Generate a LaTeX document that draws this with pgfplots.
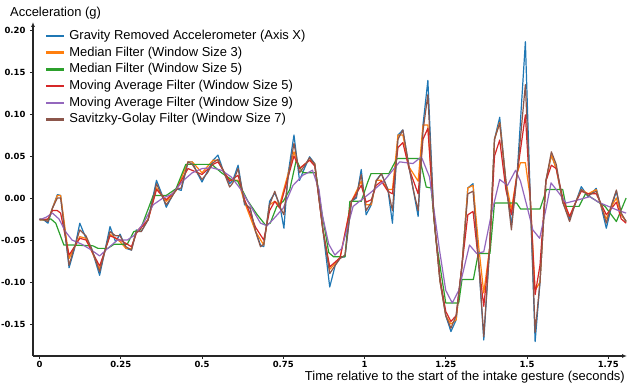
\documentclass[border=0pt]{standalone}
\usepackage{pgfplots}
\pgfplotsset{compat=1.18}
\usepackage{fontspec}
\setmainfont{Liberation Sans}
\newfontfamily\tickfont{DejaVu Sans}
\usetikzlibrary{arrows.meta}
\definecolor{cblue}{HTML}{1F77B4}
\definecolor{corange}{HTML}{FF7F0E}
\definecolor{cgreen}{HTML}{2CA02C}
\definecolor{cred}{HTML}{D62728}
\definecolor{cpurple}{HTML}{9467BD}
\definecolor{cbrown}{HTML}{8C564B}
\begin{document}
\begin{tikzpicture}
\path[use as bounding box] (0,0) rectangle (628bp,385bp);
\begin{axis}[
  at={(33bp,29bp)}, anchor=south west,
  scale only axis, width=594bp, height=334bp,
  xmin=-0.02, xmax=1.8077, ymin=-0.1881, ymax=0.2095,
  axis lines=left,
  axis line style={line width=1.3bp, black!85, -{Latex[length=5bp,width=4bp]}},
  tick style={black!85, line width=0.8bp},
  major tick length=3bp, tick align=outside,
  xtick={0,0.25,0.5,0.75,1,1.25,1.5,1.75},
  xticklabels={0,0.25,0.5,0.75,1,1.25,1.5,1.75},
  ytick={-0.15,-0.10,-0.05,0,0.05,0.10,0.15,0.20},
  yticklabels={-0.15,-0.10,-0.05,0.00,0.05,0.10,0.15,0.20},
  tick label style={font=\tickfont\bfseries\fontsize{8.5}{10}\selectfont},
  xticklabel style={yshift=1.5bp},
  yticklabel style={xshift=-1bp},
  xlabel={Time relative to the start of the intake gesture (seconds)},
  xlabel style={at={(axis description cs:1,0)}, anchor=north east, inner sep=0pt, yshift=-14.5bp, xshift=-2bp, font=\fontsize{13}{15}\selectfont},
  ylabel={Acceleration (g)},
  ylabel style={at={(axis description cs:0,1)}, rotate=-90, anchor=south west, inner sep=0pt, xshift=-23bp, yshift=3bp, font=\fontsize{13}{15}\selectfont},
  legend cell align=left,
  legend style={draw=none, fill=none, inner sep=0pt, outer sep=0pt, row sep=4.7bp, column sep=4bp,
    font=\fontsize{13}{15}\selectfont,
    nodes={inner sep=0pt, text height=9.5bp, text depth=2.5bp},
    at={(axis description cs:0,1)}, anchor=north west, xshift=12bp, yshift=-8bp},
  legend image code/.code={\draw[#1, line width=2.4bp] (0bp,0bp) -- (18bp,0bp);},
  every axis plot/.append style={line width=1.2bp, mark=none, line join=round},
]
\addplot[cblue] coordinates {
(0.000,-0.025) (0.013,-0.026) (0.026,-0.030) (0.040,-0.012) (0.055,0.004) (0.065,0.003)
(0.091,-0.083) (0.108,-0.060) (0.124,-0.030) (0.143,-0.048) (0.160,-0.060) (0.185,-0.092)
(0.200,-0.065) (0.217,-0.034) (0.234,-0.052) (0.248,-0.043) (0.266,-0.060) (0.283,-0.062)
(0.298,-0.038) (0.313,-0.040) (0.334,-0.026) (0.360,0.021) (0.376,0.005) (0.390,-0.011)
(0.405,0.000) (0.421,0.011) (0.436,0.009) (0.457,0.043) (0.470,0.043) (0.485,0.030)
(0.500,0.019) (0.517,0.032) (0.534,0.045) (0.549,0.051) (0.565,0.033) (0.585,0.017)
(0.595,0.021) (0.611,0.039) (0.631,-0.008) (0.648,-0.012) (0.665,-0.040) (0.680,-0.056)
(0.690,-0.058) (0.708,-0.004) (0.724,0.006) (0.739,-0.008) (0.752,-0.036) (0.765,0.029)
(0.783,0.075) (0.800,0.021) (0.815,0.035) (0.831,0.049) (0.847,0.041) (0.872,-0.038)
(0.893,-0.106) (0.910,-0.080) (0.925,-0.071) (0.940,-0.070) (0.960,-0.004) (0.975,0.000)
(0.990,0.034) (1.005,-0.020) (1.021,-0.008) (1.036,0.021) (1.052,0.029) (1.072,0.010)
(1.086,-0.030) (1.103,0.075) (1.118,0.081) (1.137,0.037) (1.150,0.010) (1.165,-0.022)
(1.180,0.087) (1.195,0.140) (1.213,-0.020) (1.232,-0.098) (1.250,-0.140) (1.266,-0.159)
(1.282,-0.145) (1.300,-0.080) (1.318,0.012) (1.334,0.017) (1.352,-0.080) (1.367,-0.169)
(1.385,-0.060) (1.400,0.070) (1.416,0.096) (1.435,0.020) (1.452,-0.032) (1.470,0.030)
(1.495,0.186) (1.510,0.000) (1.525,-0.171) (1.540,-0.100) (1.558,0.020) (1.575,0.051)
(1.590,0.035) (1.610,-0.005) (1.631,-0.025) (1.650,-0.005) (1.667,0.0135) (1.688,0.0015)
(1.713,0.0115) (1.728,-0.010) (1.744,-0.036) (1.760,-0.010) (1.775,0.008) (1.790,-0.020)
(1.805,-0.028)
};
\addlegendentry{Gravity Removed Accelerometer (Axis X)}
\addplot[corange] coordinates {
(0.000,-0.026) (0.026,-0.026) (0.040,-0.012) (0.055,0.003) (0.065,0.003) (0.091,-0.072)
(0.124,-0.046) (0.143,-0.048) (0.185,-0.085) (0.217,-0.043) (0.248,-0.052) (0.266,-0.060)
(0.283,-0.060) (0.298,-0.040) (0.334,-0.026) (0.360,0.012) (0.390,-0.004) (0.421,0.009)
(0.457,0.043) (0.470,0.043) (0.500,0.030) (0.534,0.045) (0.549,0.045) (0.565,0.033)
(0.585,0.021) (0.611,0.021) (0.631,-0.005) (0.665,-0.040) (0.690,-0.056) (0.708,-0.008)
(0.724,-0.004) (0.739,-0.008) (0.765,0.029) (0.783,0.055) (0.800,0.035) (0.831,0.045)
(0.847,0.041) (0.872,-0.038) (0.893,-0.085) (0.925,-0.071) (0.960,-0.004) (0.990,0.020)
(1.005,-0.008) (1.021,-0.008) (1.036,0.021) (1.052,0.021) (1.072,0.010) (1.086,0.010)
(1.103,0.075) (1.118,0.075) (1.137,0.037) (1.165,0.020) (1.180,0.087) (1.195,0.087)
(1.213,-0.020) (1.232,-0.098) (1.250,-0.140) (1.266,-0.150) (1.282,-0.145) (1.300,-0.080)
(1.318,0.012) (1.334,0.015) (1.352,-0.060) (1.367,-0.113) (1.385,-0.060) (1.400,0.070)
(1.416,0.090) (1.435,0.020) (1.452,-0.014) (1.470,0.030) (1.480,0.042) (1.495,0.042)
(1.510,0.000) (1.525,-0.110) (1.540,-0.100) (1.558,0.020) (1.575,0.051) (1.590,0.035)
(1.610,-0.005) (1.631,-0.022) (1.650,-0.005) (1.667,0.010) (1.688,0.005) (1.713,0.010)
(1.728,-0.010) (1.744,-0.025) (1.760,-0.010) (1.775,0.000) (1.790,-0.020) (1.805,-0.028)
};
\addlegendentry{Median Filter (Window Size 3)}
\addplot[cgreen] coordinates {
(0.000,-0.026) (0.020,-0.026) (0.035,-0.025) (0.050,-0.030) (0.075,-0.056) (0.100,-0.056)
(0.165,-0.057) (0.180,-0.060) (0.210,-0.060) (0.230,-0.055) (0.270,-0.055) (0.290,-0.040)
(0.310,-0.038) (0.350,0.003) (0.390,0.003) (0.420,0.011) (0.450,0.040) (0.530,0.040)
(0.560,0.030) (0.590,0.022) (0.610,0.020) (0.640,-0.003) (0.670,-0.020) (0.695,-0.032)
(0.710,-0.030) (0.730,-0.010) (0.750,-0.004) (0.770,0.010) (0.790,0.045) (0.810,0.030)
(0.850,0.030) (0.870,-0.020) (0.890,-0.065) (0.905,-0.070) (0.940,-0.070) (0.955,-0.004)
(0.990,-0.004) (1.010,0.019) (1.020,0.029) (1.075,0.029) (1.090,0.040) (1.100,0.047)
(1.170,0.047) (1.190,0.013) (1.205,0.012) (1.220,-0.050) (1.250,-0.125) (1.290,-0.125)
(1.300,-0.097) (1.335,-0.097) (1.350,-0.066) (1.386,-0.066) (1.400,-0.006) (1.468,-0.006)
(1.480,-0.013) (1.540,-0.013) (1.560,0.010) (1.610,0.010) (1.620,-0.010) (1.660,-0.010)
(1.680,0.005) (1.700,0.000) (1.740,-0.010) (1.775,-0.028) (1.805,0.000)
};
\addlegendentry{Median Filter (Window Size 5)}
\addplot[cred] coordinates {
(0.000,-0.026) (0.026,-0.025) (0.040,-0.015) (0.055,-0.015) (0.065,-0.018) (0.091,-0.068)
(0.124,-0.048) (0.143,-0.050) (0.185,-0.081) (0.217,-0.045) (0.248,-0.050) (0.283,-0.058)
(0.298,-0.042) (0.334,-0.026) (0.360,0.010) (0.390,-0.002) (0.421,0.010) (0.457,0.035)
(0.500,0.028) (0.534,0.040) (0.549,0.043) (0.565,0.033) (0.585,0.020) (0.611,0.027)
(0.631,-0.002) (0.665,-0.035) (0.690,-0.050) (0.708,-0.015) (0.724,-0.004) (0.739,-0.012)
(0.765,0.025) (0.783,0.050) (0.800,0.035) (0.831,0.045) (0.847,0.038) (0.872,-0.038)
(0.893,-0.082) (0.925,-0.071) (0.960,-0.004) (0.990,0.015) (1.005,-0.005) (1.021,-0.002)
(1.036,0.015) (1.052,0.020) (1.072,0.008) (1.086,0.005) (1.103,0.060) (1.118,0.066)
(1.137,0.035) (1.165,0.005) (1.180,0.070) (1.195,0.083) (1.213,-0.020) (1.232,-0.095)
(1.250,-0.135) (1.266,-0.147) (1.282,-0.140) (1.300,-0.080) (1.318,-0.020) (1.334,-0.016)
(1.352,-0.080) (1.367,-0.129) (1.385,-0.060) (1.400,0.050) (1.416,0.069) (1.435,0.010)
(1.452,-0.020) (1.470,0.030) (1.495,0.099) (1.510,0.000) (1.525,-0.115) (1.540,-0.080)
(1.558,0.020) (1.575,0.039) (1.590,0.035) (1.610,0.000) (1.631,-0.022) (1.650,-0.005)
(1.667,0.008) (1.688,0.005) (1.713,0.005) (1.744,-0.020) (1.775,-0.005) (1.790,-0.025)
(1.805,-0.030)
};
\addlegendentry{Moving Average Filter (Window Size 5)}
\addplot[cpurple] coordinates {
(0.000,-0.026) (0.020,-0.023) (0.040,-0.018) (0.060,-0.025) (0.080,-0.040) (0.100,-0.050)
(0.130,-0.055) (0.160,-0.062) (0.185,-0.069) (0.210,-0.060) (0.240,-0.050) (0.270,-0.050)
(0.290,-0.045) (0.320,-0.030) (0.350,-0.008) (0.380,0.000) (0.410,0.005) (0.440,0.020)
(0.470,0.030) (0.500,0.035) (0.530,0.036) (0.560,0.033) (0.590,0.025) (0.620,0.010)
(0.650,-0.010) (0.680,-0.030) (0.700,-0.033) (0.720,-0.025) (0.750,-0.012) (0.780,0.015)
(0.810,0.027) (0.840,0.033) (0.860,0.010) (0.870,-0.020) (0.890,-0.055) (0.909,-0.068)
(0.930,-0.060) (0.965,-0.010) (1.016,0.0055) (1.057,0.019) (1.108,0.043) (1.149,0.041)
(1.175,0.049) (1.200,0.025) (1.230,-0.060) (1.250,-0.110) (1.270,-0.125) (1.290,-0.110)
(1.323,-0.056) (1.345,-0.066) (1.367,-0.064) (1.390,-0.020) (1.416,0.022) (1.440,0.015)
(1.465,0.033) (1.480,0.020) (1.500,-0.010) (1.518,-0.038) (1.539,-0.048) (1.560,-0.010)
(1.574,0.018) (1.600,0.005) (1.620,-0.006) (1.650,-0.003) (1.693,0.0015) (1.720,-0.005)
(1.775,-0.014) (1.805,-0.018)
};
\addlegendentry{Moving Average Filter (Window Size 9)}
\addplot[cbrown] coordinates {
(0.000,-0.025) (0.013,-0.026) (0.026,-0.028) (0.040,-0.012) (0.055,0.000) (0.065,0.000)
(0.091,-0.080) (0.108,-0.058) (0.124,-0.038) (0.143,-0.045) (0.160,-0.060) (0.185,-0.088)
(0.200,-0.065) (0.217,-0.040) (0.234,-0.045) (0.248,-0.045) (0.266,-0.058) (0.283,-0.062)
(0.298,-0.040) (0.313,-0.040) (0.334,-0.026) (0.360,0.017) (0.376,0.003) (0.390,-0.008)
(0.405,0.000) (0.421,0.010) (0.436,0.012) (0.457,0.043) (0.470,0.040) (0.500,0.022)
(0.517,0.030) (0.534,0.042) (0.549,0.046) (0.565,0.033) (0.585,0.013) (0.595,0.018)
(0.611,0.035) (0.631,-0.006) (0.648,-0.012) (0.665,-0.040) (0.680,-0.058) (0.690,-0.055)
(0.708,-0.008) (0.724,0.008) (0.739,-0.010) (0.752,-0.020) (0.765,0.025) (0.783,0.065)
(0.800,0.030) (0.815,0.038) (0.831,0.048) (0.847,0.040) (0.872,-0.038) (0.893,-0.090)
(0.910,-0.080) (0.925,-0.072) (0.940,-0.068) (0.960,-0.004) (0.975,0.002) (0.990,0.028)
(1.005,-0.015) (1.021,-0.005) (1.036,0.020) (1.052,0.029) (1.072,0.010) (1.086,-0.015)
(1.103,0.070) (1.118,0.081) (1.137,0.037) (1.150,0.010) (1.165,-0.015) (1.180,0.080)
(1.195,0.123) (1.213,-0.020) (1.232,-0.098) (1.250,-0.140) (1.266,-0.155) (1.282,-0.140)
(1.300,-0.080) (1.318,0.005) (1.334,0.008) (1.352,-0.080) (1.367,-0.165) (1.385,-0.060)
(1.400,0.070) (1.416,0.089) (1.435,0.020) (1.452,-0.038) (1.470,0.030) (1.495,0.135)
(1.510,0.000) (1.525,-0.160) (1.540,-0.100) (1.558,0.020) (1.575,0.055) (1.590,0.040)
(1.610,-0.005) (1.631,-0.028) (1.650,-0.005) (1.667,0.010) (1.688,0.003) (1.713,0.008)
(1.728,-0.008) (1.744,-0.030) (1.760,-0.008) (1.775,0.0095) (1.790,-0.018) (1.805,-0.028)
};
\addlegendentry{Savitzky-Golay Filter (Window Size 7)}
\end{axis}
\end{tikzpicture}
\end{document}
